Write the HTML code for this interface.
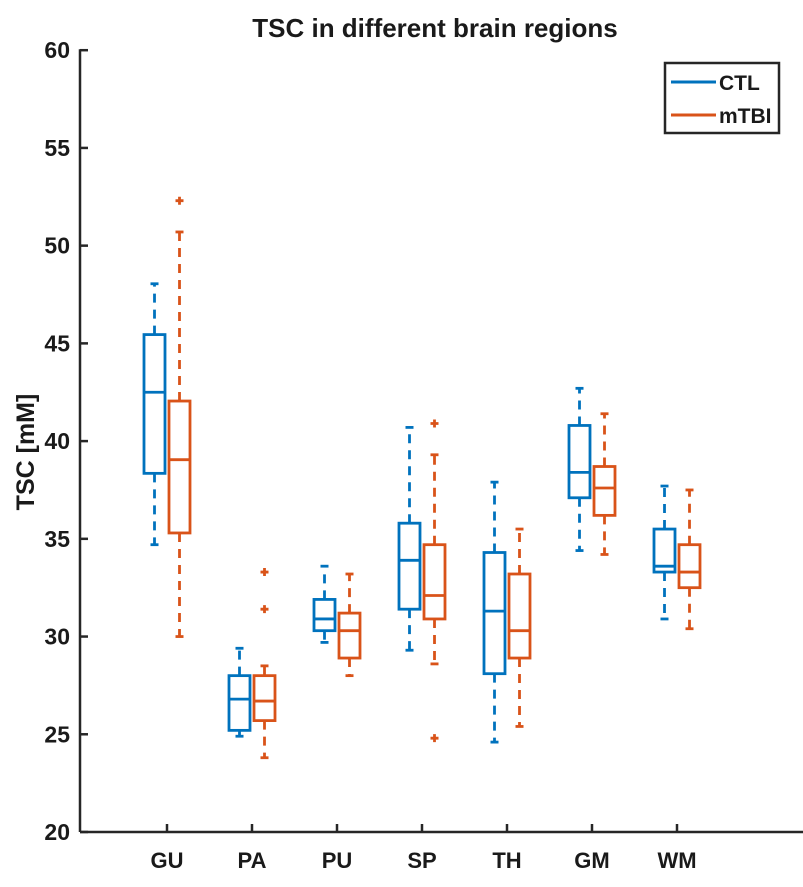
<!DOCTYPE html>
<html><head><meta charset="utf-8"><style>
body{margin:0;background:#fff;}
svg text{font-family:"Liberation Sans",Arial,sans-serif;font-weight:bold;fill:#1a1a1a;}
</style></head><body>
<svg id="chart" width="803" height="882" xmlns="http://www.w3.org/2000/svg">
<text x="435" y="37" font-size="26" text-anchor="middle">TSC in different brain regions</text>
<text transform="translate(34,452) rotate(-90)" font-size="25" text-anchor="middle">TSC [mM]</text>
<g id="axes"></g>
<g id="marks"></g>
<g>
<rect x="665" y="63" width="114" height="70" fill="#fff" stroke="#262626" stroke-width="2.5"/>
<line x1="671" y1="82" x2="716" y2="82" stroke="#0072BD" stroke-width="3"/>
<text x="719" y="90" font-size="21">CTL</text>
<line x1="671" y1="115" x2="716" y2="115" stroke="#D95319" stroke-width="3"/>
<text x="719" y="123" font-size="21">mTBI</text>
</g>
</svg>
<script>
const categories=["GU","PA","PU","SP","TH","GM","WM"];
// [whiskerLow, q1, median, q3, whiskerHigh]
const ctlStats=[[34.7,38.35,42.5,45.45,48.05],[24.9,25.2,26.8,28.0,29.4],[29.7,30.3,30.9,31.9,33.6],[29.3,31.4,33.9,35.8,40.7],[24.6,28.1,31.3,34.3,37.9],[34.4,37.1,38.4,40.8,42.7],[30.9,33.3,33.6,35.5,37.7]];
const mtbiStats=[[30.0,35.3,39.05,42.05,50.7],[23.8,25.7,26.7,28.0,28.5],[28.0,28.9,30.3,31.2,33.2],[28.6,30.9,32.1,34.7,39.3],[25.4,28.9,30.3,33.2,35.5],[34.2,36.2,37.6,38.7,41.4],[30.4,32.5,33.3,34.7,37.5]];
const ctlOutliers=[[],[],[],[],[],[],[]];
const mtbiOutliers=[[52.3],[33.3,31.4],[],[40.9,24.8],[],[],[]];
const yTicks=[20,25,30,35,40,45,50,55,60];

const NS="http://www.w3.org/2000/svg";
const X0=80,Y0=832,yMin=20,yMax=60,plotTop=50.2;
const ys=v=>Y0-(v-yMin)*(Y0-plotTop)/(yMax-yMin);
const xs=i=>167+85*i;
function mk(parent,tag,attrs){const e=document.createElementNS(NS,tag);for(const k in attrs)e.setAttribute(k,attrs[k]);parent.appendChild(e);return e;}
const axes=document.getElementById('axes'),marks=document.getElementById('marks');
let a=mk(axes,'line',{x1:X0,y1:plotTop-1,x2:X0,y2:Y0,stroke:'#262626','stroke-width':2.5});


a=mk(axes,'line',{x1:X0,y1:Y0,x2:803,y2:Y0,stroke:'#262626','stroke-width':2.5});


yTicks.forEach(t=>{
 const y=ys(t);
 mk(axes,'line',{x1:X0,y1:y,x2:X0+8,y2:y,stroke:'#262626','stroke-width':2.5});
 const tx=mk(axes,'text',{x:X0-10,y:y+8,'font-size':23,'text-anchor':'end'});
 tx.textContent=t;
 
 
});
categories.forEach((c,i)=>{
 mk(axes,'line',{x1:xs(i),y1:Y0,x2:xs(i),y2:Y0-8,stroke:'#262626','stroke-width':2.5});
 const tx=mk(axes,'text',{x:xs(i),y:868,'font-size':22,'text-anchor':'middle'});
 tx.textContent=c;
 
 
});
function box(cx,s,outs,color,name){
 const g=mk(marks,'g',{stroke:color,'stroke-width':2.8,fill:'none'});
 
 
 const [lo,q1,md,q3,hi]=s,w=10.5;
 mk(g,'line',{x1:cx,y1:ys(q3),x2:cx,y2:ys(hi),'stroke-dasharray':'9,7'});
 mk(g,'line',{x1:cx,y1:ys(q1),x2:cx,y2:ys(lo),'stroke-dasharray':'9,7'});
 mk(g,'line',{x1:cx-4,y1:ys(hi),x2:cx+4,y2:ys(hi)});
 mk(g,'line',{x1:cx-4,y1:ys(lo),x2:cx+4,y2:ys(lo)});
 mk(g,'rect',{x:cx-w,y:ys(q3),width:2*w,height:ys(q1)-ys(q3),fill:'#fff'});
 mk(g,'line',{x1:cx-w,y1:ys(md),x2:cx+w,y2:ys(md)});
 outs.forEach(o=>{const y=ys(o);
  mk(g,'path',{d:`M${cx-4},${y}H${cx+4}M${cx},${y-4}V${y+4}`});});
}
categories.forEach((c,i)=>{
 box(xs(i)-12.5,ctlStats[i],ctlOutliers[i],'#0072BD','box-ctl-'+c.toLowerCase());
 box(xs(i)+12.5,mtbiStats[i],mtbiOutliers[i],'#D95319','box-mtbi-'+c.toLowerCase());
});
</script>
</body></html>
